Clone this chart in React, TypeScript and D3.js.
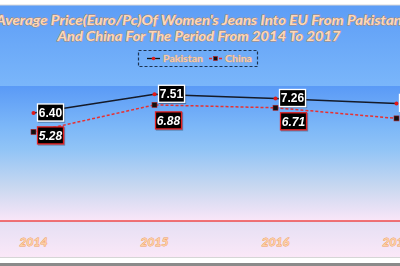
import React from "react";
import * as d3 from "d3";

const years = ["2014", "2015", "2016", "2017"];
const pakistan = [6.4, 7.51, 7.26, 6.97];
const china = [5.28, 6.88, 6.71, 6.08];
const titleLines = [
  "Average Price(Euro/Pc)Of Women's Jeans Into EU From Pakistan",
  "And China For The Period From 2014 To 2017",
];
// label box offsets from each point (dx: box left, dy: box top)
const pakLabelOffsets = [
  [4, -9],
  [4, -9],
  [4, -9],
  [3, -9],
];
const chinaLabelOffsets = [
  [4, -5],
  [1, 7],
  [5, 5],
  [6, 6],
];

const W = 400;
const H = 266;

export default function App() {
  const x = d3.scalePoint<string>().domain(years).range([33.5, 396.5]);
  const y = d3.scaleLinear().domain([0, 8]).range([221, 86]);

  const line = d3
    .line<number>()
    .x((_, i) => x(years[i]) as number)
    .y((d) => y(d));

  const labelFont = "'Liberation Sans', Arial, sans-serif";
  const titleFont = "Lato, 'Open Sans', sans-serif";

  return (
    <div style={{ position: "fixed", left: 0, top: 0 }}>
      <svg width={W} height={H} style={{ display: "block" }}>
        <defs>
          <linearGradient id="chartBg" x1="0" y1="0" x2="0" y2="1">
            <stop offset="0" stopColor="#5d9df6" />
            <stop offset="0.32" stopColor="#7ab6fa" />
            <stop offset="0.6" stopColor="#a9cbf4" />
            <stop offset="0.87" stopColor="#e6e0f4" />
            <stop offset="1" stopColor="#fbe8f8" />
          </linearGradient>
          <linearGradient id="plotBg" x1="0" y1="0" x2="0" y2="1">
            <stop offset="0" stopColor="#5a9af6" />
            <stop offset="0.3" stopColor="#7cb7f8" />
            <stop offset="0.47" stopColor="#91c4f6" />
            <stop offset="0.75" stopColor="#c9d8f0" />
            <stop offset="1" stopColor="#fae6f8" />
          </linearGradient>
          <filter id="shadow" x="-20%" y="-20%" width="150%" height="160%">
            <feDropShadow dx="1" dy="1" stdDeviation="0.6" floodColor="#000" floodOpacity="0.35" />
          </filter>
        </defs>

        <rect x={0} y={0} width={W} height={H} fill="#ffffff" />
        <rect x={0} y={5} width={W} height={252} fill="url(#chartBg)" />
        <line x1={0} x2={W} y1={5} y2={5} stroke="#d8d8d8" strokeWidth={1} />
        <rect x={0} y={y(8)} width={W} height={y(0) - y(8)} fill="url(#plotBg)" />
        <line x1={0} x2={W} y1={y(0)} y2={y(0)} stroke="#ee4a4a" strokeWidth={1.6} />
        <line x1={0} x2={W} y1={257.5} y2={257.5} stroke="#d6d6d6" strokeWidth={1} />
        <rect x={0} y={263} width={W} height={3} fill="#8a8a8a" />

        {/* title */}
        {titleLines.map((t, i) => (
          <text
            key={i}
            x={199}
            y={25 + i * 16}
            textAnchor="middle"
            fontFamily={titleFont}
            fontWeight="bold"
            fontStyle="italic"
            fontSize={14}
            fill="#fcd8b9"
            stroke="#b9875f"
            strokeWidth={0.8}
            paintOrder="stroke"
            textLength={i === 0 ? 406 : 283}
            lengthAdjust="spacingAndGlyphs"
          >
            {t}
          </text>
        ))}

        {/* legend */}
        <g>
          <rect
            x={138.5}
            y={50.5}
            width={119}
            height={16}
            fill="none"
            stroke="#1e3350"
            strokeWidth={1.2}
            strokeDasharray="3,2"
          />
          <line x1={147} x2={160} y1={58.5} y2={58.5} stroke="#111" strokeWidth={1.3} />
          <circle cx={153.5} cy={58.5} r={1.8} fill="#e21c1c" />
          <text
            x={163}
            y={62}
            fontFamily={titleFont}
            fontWeight="bold"
            fontSize={10}
            fill="#f9cda8"
            stroke="#c89470"
            strokeWidth={0.5}
            paintOrder="stroke"
            textLength={40}
            lengthAdjust="spacingAndGlyphs"
          >
            Pakistan
          </text>
          <line
            x1={209}
            x2={222}
            y1={58.5}
            y2={58.5}
            stroke="#e82a2a"
            strokeWidth={1.3}
            strokeDasharray="3,2"
          />
          <rect x={213.5} y={56.5} width={4} height={4} fill="#111" stroke="#c02020" strokeWidth={0.6} />
          <text
            x={225}
            y={62}
            fontFamily={titleFont}
            fontWeight="bold"
            fontSize={10}
            fill="#f9cda8"
            stroke="#c89470"
            strokeWidth={0.5}
            paintOrder="stroke"
            textLength={27}
            lengthAdjust="spacingAndGlyphs"
          >
            China
          </text>
        </g>

        {/* series lines */}
        <path d={line(pakistan) ?? ""} fill="none" stroke="#151a28" strokeWidth={1.5} />
        <path
          d={line(china) ?? ""}
          fill="none"
          stroke="#e83030"
          strokeWidth={1.5}
          strokeDasharray="3,2"
        />

        {/* markers */}
        {pakistan.map((v, i) => (
          <circle key={"p" + i} cx={x(years[i])} cy={y(v)} r={2} fill="#e01818" />
        ))}
        {china.map((v, i) => (
          <rect
            key={"c" + i}
            x={(x(years[i]) as number) - 2.5}
            y={y(v) - 2.5}
            width={5}
            height={5}
            fill="#111"
            stroke="#b02020"
            strokeWidth={0.6}
          />
        ))}

        {/* data labels */}
        {pakistan.map((v, i) => {
          const bx = (x(years[i]) as number) + pakLabelOffsets[i][0];
          const by = y(v) + pakLabelOffsets[i][1];
          return (
            <g key={"pl" + i} filter="url(#shadow)">
              <rect x={bx} y={by} width={26} height={17} fill="#000" stroke="#ffffff" strokeWidth={1.3} />
              <text
                x={bx + 13}
                y={by + 13}
                textAnchor="middle"
                fontFamily={labelFont}
                fontWeight="bold"
                fontSize={12}
                fill="#ffffff"
              >
                {v.toFixed(2)}
              </text>
            </g>
          );
        })}
        {china.map((v, i) => {
          const bx = (x(years[i]) as number) + chinaLabelOffsets[i][0];
          const by = y(v) + chinaLabelOffsets[i][1];
          return (
            <g key={"cl" + i} filter="url(#shadow)">
              <rect x={bx} y={by} width={26} height={17} fill="#000" stroke="#e02020" strokeWidth={1.3} />
              <text
                x={bx + 13}
                y={by + 13}
                textAnchor="middle"
                fontFamily={labelFont}
                fontWeight="bold"
                fontStyle="italic"
                fontSize={12}
                fill="#ffffff"
              >
                {v.toFixed(2)}
              </text>
            </g>
          );
        })}

        {/* x axis labels */}
        {years.map((yr) => (
          <text
            key={yr}
            x={x(yr)}
            y={245.5}
            textAnchor="middle"
            fontFamily={titleFont}
            fontWeight="bold"
            fontStyle="italic"
            fontSize={12}
            fill="#fccfa6"
            stroke="#f09c5c"
            strokeWidth={0.8}
            paintOrder="stroke"
          >
            {yr}
          </text>
        ))}
      </svg>
    </div>
  );
}
